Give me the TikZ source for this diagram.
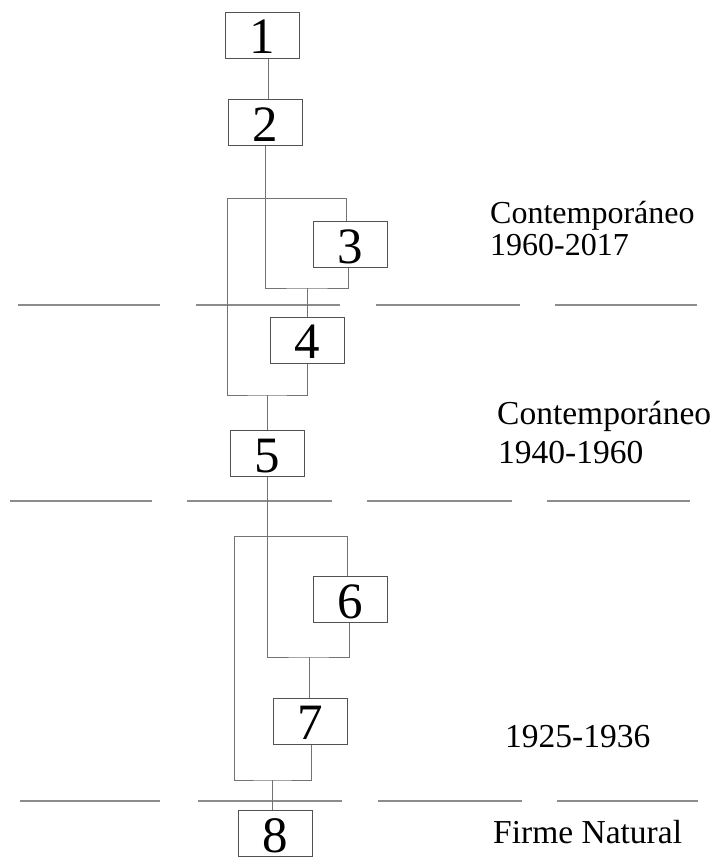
\documentclass[tikz,border=0pt]{standalone}
\usepackage{fontspec}
\setmainfont{Liberation Serif}
\begin{document}
\begin{tikzpicture}[x=1pt,y=-1pt,
  numbox/.style={draw=black!68, line width=1pt, minimum width=74pt, minimum height=46pt, inner sep=0pt, text height=41pt, text depth=4pt, font=\fontsize{51}{51}\selectfont},
  conn/.style={draw=black!55, line width=1pt},
  horizon/.style={draw=black!45, line width=2pt},
  lbl/.style={anchor=base west, inner sep=0pt, font=\fontsize{32}{38}\selectfont},
  lblb/.style={anchor=base west, inner sep=0pt, font=\fontsize{33.5}{40}\selectfont}]
\useasboundingbox (0,0) rectangle (722,859);
% horizon lines
\foreach \a/\b in {18/160,196/340,376/520,555/697} \draw[horizon] (\a,305) -- (\b,305);
\foreach \a/\b in {10/152,187/332,367/512,547/690} \draw[horizon] (\a,501) -- (\b,501);
\foreach \a/\b in {20/160,198/342,378/522,557/698} \draw[horizon] (\a,801) -- (\b,801);
% boxes
\node[numbox, fill=white] (b1) at (262.5,35.5) {1};
\node[numbox, fill=white] (b2) at (265,122.5) {2};
\node[numbox, fill=white] (b3) at (350.5,244.5) {3};
\node[numbox, fill=white] (b4) at (307.5,340) {4};
\node[numbox, fill=white] (b5) at (267,453.5) {5};
\node[numbox, fill=white] (b6) at (350,599.5) {6};
\node[numbox, fill=white] (b7) at (310,721) {7};
\node[numbox, fill=white] (b8) at (275,833.5) {8};
% junction coordinates
\coordinate (j34) at (307,288);
\coordinate (j45) at (267,395);
\coordinate (j67) at (309,657);
\coordinate (j78) at (272,780);
% connectors upper group
\draw[conn] (b1.south -| 268,0) -- (b2.north -| 268,0);
\draw[conn] (b2.south) -- (b2.south |- j34) -- (j34) -- (348,288) -- (b3.south -| 348,0);
\draw[conn] (j34) -- (b4.north -| j34);
\draw[conn] (b3.north -| 346,0) -- (346,198) -- (227,198) -- (227,395) -- (j45) -- (307,395) -- (b4.south -| 307,0);
\draw[conn] (j45) -- (b5.north -| j45);
% connectors lower group
\draw[conn] (b5.south) -- (b5.south |- j67) -- (j67) -- (349,657) -- (b6.south -| 349,0);
\draw[conn] (j67) -- (b7.north -| j67);
\draw[conn] (b6.north -| 347,0) -- (347,536) -- (234,536) -- (234,780) -- (j78) -- (311,780) -- (b7.south -| 311,0);
\draw[conn] (j78) -- (b8.north -| j78);
% labels
\node[lbl] (l1a) at (490,223) {Contemporáneo};
\node[lbl] (l1b) at (490,255) {1960-2017};
\node[lblb] (l2a) at (497,424) {Contemporáneo};
\node[lblb] (l2b) at (498,463) {1940-1960};
\node[lblb] (l3) at (505,747) {1925-1936};
\node[lblb] (l4) at (493,843) {Firme Natural};
\end{tikzpicture}
\end{document}
